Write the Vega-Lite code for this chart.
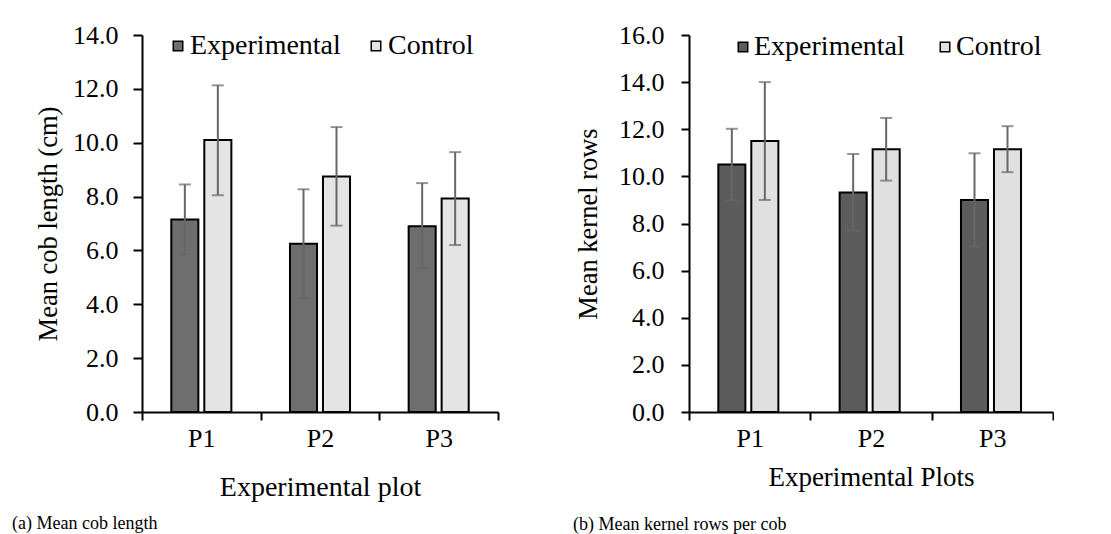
{
  "$schema": "https://vega.github.io/schema/vega-lite/v6.json",
  "padding": {"left": 12, "top": 22, "right": 0, "bottom": 0},
  "background": "white",
  "datasets": {
    "cob": [
      {"plot": "P1", "group": "Experimental", "mean": 7.15, "low": 5.85, "high": 8.45},
      {"plot": "P1", "group": "Control", "mean": 10.1, "low": 8.05, "high": 12.13},
      {"plot": "P2", "group": "Experimental", "mean": 6.25, "low": 4.23, "high": 8.27},
      {"plot": "P2", "group": "Control", "mean": 8.75, "low": 6.92, "high": 10.58},
      {"plot": "P3", "group": "Experimental", "mean": 6.9, "low": 5.35, "high": 8.5},
      {"plot": "P3", "group": "Control", "mean": 7.93, "low": 6.2, "high": 9.65}
    ],
    "kernel": [
      {"plot": "P1", "group": "Experimental", "mean": 10.5, "low": 8.98, "high": 12.02},
      {"plot": "P1", "group": "Control", "mean": 11.5, "low": 9.0, "high": 14.0},
      {"plot": "P2", "group": "Experimental", "mean": 9.32, "low": 7.7, "high": 10.95},
      {"plot": "P2", "group": "Control", "mean": 11.15, "low": 9.82, "high": 12.48},
      {"plot": "P3", "group": "Experimental", "mean": 9.0, "low": 7.02, "high": 10.98},
      {"plot": "P3", "group": "Control", "mean": 11.15, "low": 10.18, "high": 12.13}
    ]
  },
  "hconcat": [
    {
      "width": 356,
      "height": 377,
      "data": {"name": "cob"},
      "title": {"text": "(a) Mean cob length", "orient": "bottom", "anchor": "start", "frame": "group", "dx": -130, "offset": 14, "fontSize": 18, "fontWeight": "normal", "font": "Liberation Serif", "color": "black"},
      "encoding": {
        "x": {"field": "plot", "type": "nominal", "title": "Experimental plot",
          "scale": {"paddingInner": 0, "paddingOuter": 0},
          "axis": {"labelAngle": 0, "tickBand": "extent", "tickSize": 8, "labelPadding": 5, "titlePadding": 22, "titleFontSize": 28}},
        "xOffset": {"field": "group", "type": "nominal", "sort": ["Experimental", "Control"],
          "scale": {"paddingInner": 0.18, "paddingOuter": 0.888}}
      },
      "layer": [
        {
          "mark": {"type": "bar", "stroke": "black", "strokeWidth": 2},
          "encoding": {
            "y": {"field": "mean", "type": "quantitative", "title": "Mean cob length (cm)",
              "scale": {"domain": [0, 14], "nice": false},
              "axis": {"values": [0, 2, 4, 6, 8, 10, 12, 14], "format": ".1f", "grid": false, "tickSize": 9, "labelPadding": 15, "minExtent": 68, "maxExtent": 68, "titlePadding": 12}},
            "fill": {"field": "group", "type": "nominal",
              "scale": {"domain": ["Experimental", "Control"], "range": ["#6e6e6e", "#e4e4e4"]},
              "legend": {"orient": "none", "direction": "horizontal", "legendX": 22, "legendY": -3, "title": null, "symbolType": "square", "symbolSize": 90, "symbolStrokeColor": "black", "symbolStrokeWidth": 1.5, "labelFont": "Liberation Serif", "labelFontSize": 28, "labelColor": "black", "labelOffset": -2, "columnPadding": 21, "padding": 0, "labelLimit": 400}}
          }
        },
        {
          "mark": {"type": "rule", "color": "#676767", "strokeWidth": 2},
          "encoding": {"y": {"field": "low", "type": "quantitative"}, "y2": {"field": "high"}}
        },
        {
          "mark": {"type": "tick", "orient": "horizontal", "size": 12, "thickness": 2, "color": "#676767"},
          "encoding": {"y": {"field": "high", "type": "quantitative"}}
        },
        {
          "mark": {"type": "tick", "orient": "horizontal", "size": 12, "thickness": 2, "color": "#676767"},
          "encoding": {"y": {"field": "low", "type": "quantitative"}}
        }
      ]
    },
    {
      "width": 364,
      "height": 377,
      "data": {"name": "kernel"},
      "title": {"text": "(b) Mean kernel rows per cob", "orient": "bottom", "anchor": "start", "frame": "group", "dx": -116, "offset": 26, "fontSize": 18, "fontWeight": "normal", "font": "Liberation Serif", "color": "black"},
      "encoding": {
        "x": {"field": "plot", "type": "nominal", "title": "Experimental Plots",
          "scale": {"paddingInner": 0, "paddingOuter": 0},
          "axis": {"labelAngle": 0, "tickBand": "extent", "tickSize": 8, "labelPadding": 5, "titlePadding": 13, "titleFontSize": 27}},
        "xOffset": {"field": "group", "type": "nominal", "sort": ["Experimental", "Control"],
          "scale": {"paddingInner": 0.19, "paddingOuter": 0.842}}
      },
      "layer": [
        {
          "mark": {"type": "bar", "stroke": "black", "strokeWidth": 2},
          "encoding": {
            "y": {"field": "mean", "type": "quantitative", "title": "Mean kernel rows",
              "scale": {"domain": [0, 16], "nice": false},
              "axis": {"values": [0, 2, 4, 6, 8, 10, 12, 14, 16], "format": ".1f", "grid": false, "tickSize": 8, "labelPadding": 17, "minExtent": 69, "maxExtent": 69, "titlePadding": 18}},
            "fill": {"field": "group", "type": "nominal",
              "scale": {"domain": ["Experimental", "Control"], "range": ["#5c5c5c", "#e0e0e0"]},
              "legend": {"orient": "none", "direction": "horizontal", "legendX": 40, "legendY": -2, "title": null, "symbolType": "square", "symbolSize": 90, "symbolStrokeColor": "black", "symbolStrokeWidth": 1.5, "labelFont": "Liberation Serif", "labelFontSize": 28, "labelColor": "black", "labelOffset": -3, "columnPadding": 26, "padding": 0, "labelLimit": 400}}
          }
        },
        {
          "mark": {"type": "rule", "color": "#676767", "strokeWidth": 2},
          "encoding": {"y": {"field": "low", "type": "quantitative"}, "y2": {"field": "high"}}
        },
        {
          "mark": {"type": "tick", "orient": "horizontal", "size": 12, "thickness": 2, "color": "#676767"},
          "encoding": {"y": {"field": "high", "type": "quantitative"}}
        },
        {
          "mark": {"type": "tick", "orient": "horizontal", "size": 12, "thickness": 2, "color": "#676767"},
          "encoding": {"y": {"field": "low", "type": "quantitative"}}
        }
      ]
    }
  ],
  "resolve": {"scale": {"fill": "independent"}},
  "spacing": 74,
  "config": {
    "font": "Liberation Serif",
    "view": {"stroke": null},
    "style": {"guide-label": {"font": "Liberation Serif"}, "guide-title": {"font": "Liberation Serif"}},
    "axis": {"domainColor": "black", "domainWidth": 2, "tickColor": "black", "tickWidth": 2, "labelColor": "black", "titleColor": "black", "labelFontSize": 26, "titleFontSize": 26.5, "titleFontWeight": "normal", "labelFont": "Liberation Serif", "titleFont": "Liberation Serif"},
    "legend": {"labelColor": "black", "labelFont": "Liberation Serif"}
  }
}
